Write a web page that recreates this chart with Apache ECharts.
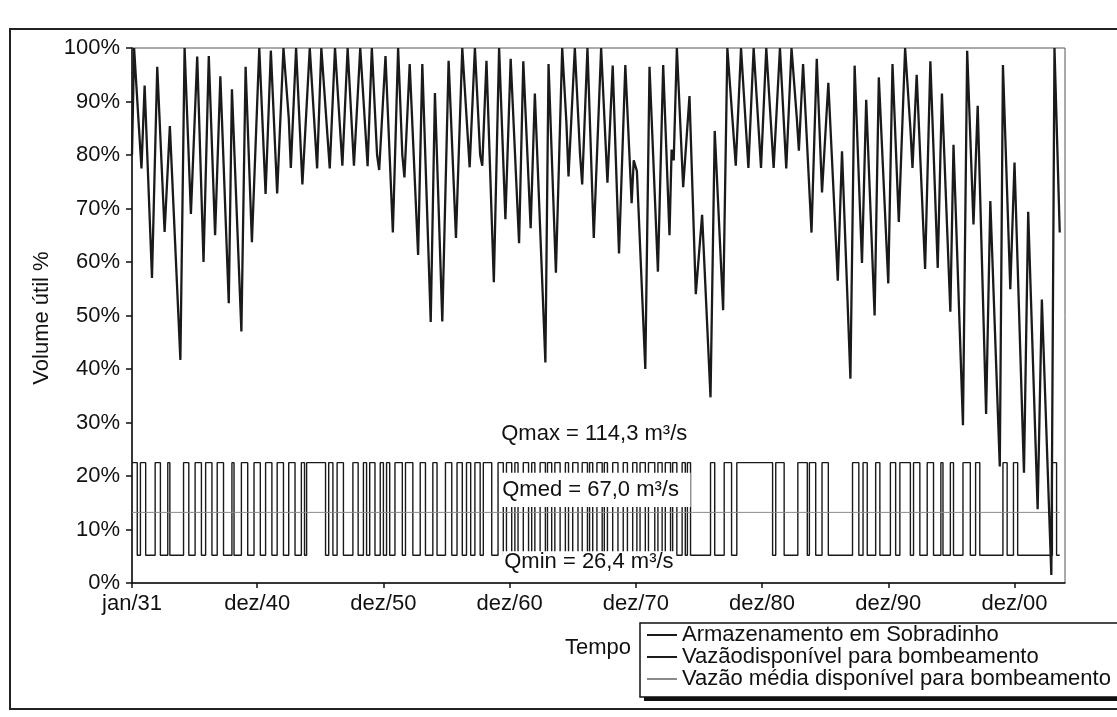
<!DOCTYPE html>
<html><head><meta charset="utf-8">
<script src="https://cdn.jsdelivr.net/npm/echarts@6/dist/echarts.min.js"></script>
<style>html,body{margin:0;padding:0;background:#fff}#c{width:1117px;height:717px}</style>
</head><body><div id="c"></div>
<script>
// Month index 0 = jan/1931
const tickMonths = [0, 119, 239, 359, 479, 599, 719, 839];
const tickLabels = ['jan/31', 'dez/40', 'dez/50', 'dez/60', 'dez/70', 'dez/80', 'dez/90', 'dez/00'];

// Armazenamento em Sobradinho (% volume útil) - turning points
const storageMonths = [0,2,6,9,12,19,24,31,36,46,50,56,62,68,73,79,84,92,95,104,108,114,121,127,132,138,144,149,151,156,162,169,176,180,188,193,200,205,211,217,224,228,233,235,241,248,253,257,259,264,272,276,284,288,295,301,308,314,321,326,331,333,337,344,349,355,360,368,372,379,383,393,396,403,409,413,415,421,426,428,433,439,446,452,457,463,469,475,477,480,488,492,500,505,511,513,515,518,524,530,536,542,550,554,562,566,574,579,586,591,598,603,610,616,622,627,632,634,638,646,651,654,656,662,671,675,683,687,694,698,706,710,719,723,729,735,740,742,746,754,759,766,770,778,781,790,794,800,804,812,816,825,828,835,839,848,852,861,865,874,877,882];
const storageValues = [80,100,87,77.5,93,57,96.5,65.6,85.4,41.7,100,69,98.4,60,98.5,65,94.7,52.3,92.3,47,96.5,63.7,100,72.7,99.5,72.8,100,87,77.6,100,74.5,100,77.5,100,77.5,100,78,100,78,100,77.9,100,80,77.2,98.5,65.5,100,80,75.8,97,61.3,97,48.8,91.6,48.9,97.6,64.5,100,77.7,100,80,78,97.6,56.2,100,68,98,63.5,97.5,66.3,91.5,41.2,97,58,100,86,76,100,80,74.5,100,64.5,100,74.8,96.7,61.6,96.8,71,79,77,40,96.5,58.2,96.8,65,81,79,100,74,91,54,68.8,34.7,84.5,51,100,78,100,77.6,100,77.6,100,77.6,100,77.5,100,87,80.8,97,65.5,98,83,73,93.5,56.5,80.7,38.2,96.7,59.8,90.3,50,94.5,56,97,67.5,100,85,77.6,95,58.7,97.5,58.9,91.5,50.7,81.9,29.5,99.5,67,89.2,31.6,71.4,21.8,96.8,54.9,78.6,20.6,69.4,13.8,53,1.5,100,65.5];

// Vazão disponível para bombeamento: months with Qmax (start, end of each pulse), else Qmin
const pulseStart = [0,8,22,34,49,60,70,81,95,104,116,127,138,149,161,166,187,195,210,220,226,236,242,250,260,274,286,298,309,318,326,334,348,356,364,372,380,388,395,402,412,419,428,435,442,449,457,467,476,483,491,500,507,514,523,528,550,563,575,612,633,644,656,685,695,707,721,730,743,756,769,778,790,802,828,838,875];
const pulseEnd   = [5,13,27,36,54,66,76,87,97,110,122,133,144,155,164,184,191,201,215,223,231,239,245,257,267,279,290,304,314,322,331,342,353,361,367,377,383,393,399,407,415,424,433,438,447,452,462,471,480,488,497,504,512,518,526,531,554,570,609,620,642,650,662,691,699,711,726,740,749,762,771,781,797,806,832,842,879];
const flowLevels = { max: 22.5, med: 13.2, min: 5.2 };   // % equivalents of 114,3 / 67,0 / 26,4 m³/s
const lastMonth = 882;

const meanMonths = [0, lastMonth];
const meanValues = [flowLevels.med, flowLevels.med];

const seriesNames = ['Armazenamento em Sobradinho', 'Vazãodisponível para bombeamento', 'Vazão média disponível para bombeamento'];

const storageData = storageMonths.map((m, i) => [m, storageValues[i]]);
const flowData = [];
pulseStart.forEach((s, i) => {
  const e = pulseEnd[i];
  if (flowData.length === 0 && s > 0) flowData.push([0, flowLevels.min]);
  if (s > 0) flowData.push([s, flowLevels.min]);
  flowData.push([s, flowLevels.max], [e, flowLevels.max], [e, flowLevels.min]);
});
flowData.push([lastMonth, flowLevels.min]);
const meanData = meanMonths.map((m, i) => [m, meanValues[i]]);

const FONT = 'Liberation Sans, Arial, sans-serif';
const chart = echarts.init(document.getElementById('c'), null, { renderer: 'canvas' });
chart.setOption({
  animation: false,
  backgroundColor: '#fff',
  textStyle: { fontFamily: FONT },
  grid: { left: 132, right: 52, top: 48, bottom: 134, show: true, borderColor: '#555', borderWidth: 1 },
  xAxis: {
    type: 'value', min: 0, max: 887,
    axisLine: { show: true, lineStyle: { color: '#111', width: 1.5 } },
    axisTick: { show: true, customValues: tickMonths, length: 5, lineStyle: { color: '#111', width: 1.5 } },
    axisLabel: { customValues: tickMonths, formatter: v => tickLabels[tickMonths.indexOf(v)] || '', fontSize: 22, color: '#111', margin: 10, fontFamily: FONT },
    splitLine: { show: false }
  },
  yAxis: {
    type: 'value', min: 0, max: 100, interval: 10,
    axisLine: { show: true, lineStyle: { color: '#111', width: 1.5 } },
    axisTick: { show: true, length: 6, lineStyle: { color: '#111', width: 1.5 } },
    axisLabel: { formatter: '{value}%', fontSize: 22, color: '#111', margin: 12, fontFamily: FONT },
    splitLine: { show: false }
  },
  legend: {
    orient: 'vertical', left: 647, top: 624, padding: 0, itemGap: 0,
    itemWidth: 30, itemHeight: 2, icon: 'rect',
    textStyle: { fontSize: 22, lineHeight: 21.5, color: '#111', fontFamily: FONT },
    data: seriesNames, z: 10
  },
  series: [
    { name: seriesNames[0], type: 'line', data: storageData, symbol: 'none', lineStyle: { color: '#1a1a1a', width: 2.3 }, itemStyle: { color: '#1a1a1a' }, z: 3 },
    { name: seriesNames[1], type: 'line', data: flowData, symbol: 'none', lineStyle: { color: '#1a1a1a', width: 1.4 }, itemStyle: { color: '#1a1a1a' }, z: 2 },
    { name: seriesNames[2], type: 'line', data: meanData, symbol: 'none', lineStyle: { color: '#8a8a8a', width: 1 }, itemStyle: { color: '#8a8a8a' }, z: 2 }
  ]
});

function px(m, v) { return chart.convertToPixel({ gridIndex: 0 }, [m, v]); }
const qmaxPos = px(351, 27.9), qmedPos = px(352, 17.4), qminPos = px(352, 3.9);
const boxA = px(349, 20.6), boxB = px(531, 14.2);
const tStyle = { fontSize: 22, fontFamily: FONT, fill: '#111' };
chart.setOption({
  graphic: [
    { type: 'rect', shape: { x: 10, y: 29, width: 1200, height: 680 }, style: { fill: 'none', stroke: '#222', lineWidth: 2 }, z: 0, silent: true },
    { type: 'rect', shape: { x: 644, y: 627, width: 600, height: 74 }, style: { fill: '#111' }, z: 1, silent: true },
    { type: 'rect', shape: { x: 640, y: 623, width: 600, height: 74 }, style: { fill: '#fff', stroke: '#111', lineWidth: 1.5 }, z: 1, silent: true },
    { type: 'text', x: 565, y: 637, style: Object.assign({ text: 'Tempo' }, tStyle), z: 2 },
    { type: 'text', x: 42, y: 318, rotation: Math.PI / 2, style: Object.assign({ text: 'Volume útil %', align: 'center', verticalAlign: 'middle' }, tStyle), z: 2 },
    { type: 'rect', shape: { x: boxA[0], y: boxA[1], width: boxB[0] - boxA[0], height: boxB[1] - boxA[1] }, style: { fill: '#fff' }, z: 20, silent: true },
    { type: 'text', x: qmaxPos[0], y: qmaxPos[1], style: Object.assign({ text: 'Qmax = 114,3 m³/s', verticalAlign: 'middle' }, tStyle), z: 21 },
    { type: 'text', x: qmedPos[0], y: qmedPos[1], style: Object.assign({ text: 'Qmed = 67,0 m³/s', verticalAlign: 'middle' }, tStyle), z: 21 },
    { type: 'text', x: qminPos[0], y: qminPos[1], style: Object.assign({ text: 'Qmin = 26,4 m³/s', verticalAlign: 'middle', backgroundColor: '#fff', padding: [0, 2, 0, 2] }, tStyle), z: 21 }
  ]
});
</script></body></html>
